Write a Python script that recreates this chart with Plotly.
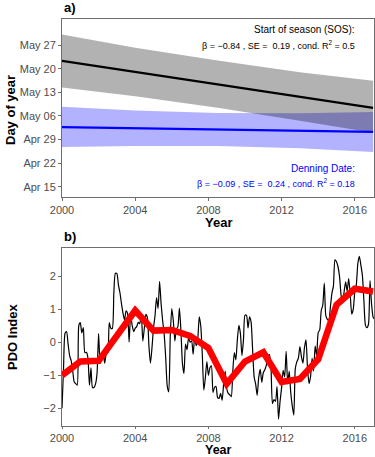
import plotly.graph_objects as go

# ---- panel a: start of season vs denning date (day of year) ----
fit_years = [2000, 2017]
sos_fit = [142.3, 128.4]
den_fit = [122.7, 121.3]

ci_years = [2000, 2004, 2008.5, 2013, 2017]
sos_hi = [150.1, 146.2, 142.4, 138.9, 136.4]
sos_lo = [134.4, 131.8, 128.4, 124.6, 121.0]
den_hi = [128.7, 127.6, 126.9, 126.8, 127.2]
den_lo = [116.8, 117.1, 117.1, 116.4, 115.3]

doy_ticks = [105, 112, 119, 126, 133, 140, 147]
doy_labels = ["Apr 15", "Apr 22", "Apr 29", "May 06", "May 13", "May 20", "May 27"]

# ---- panel b: PDO index, monthly and annual ----
pdo_monthly = [
    -2.00, -0.80, 0.28, 0.33, -0.05, -0.40, -0.55, -0.85, -1.20, -1.25, -1.30, 0.50,   # 2000
    0.60, 0.29, 0.45, -0.31, -0.30, -0.47, -1.30, -0.77, -1.37, -1.37, -1.26, -0.93,   # 2001
    0.27, -0.64, -0.43, -0.32, -0.63, -0.35, -0.31, 0.60, 0.43, 0.42, 1.51, 2.10,      # 2002
    2.09, 1.75, 1.51, 1.18, 0.89, 0.68, 0.96, 0.88, 0.01, 0.83, 0.52, 0.33,            # 2003
    0.43, 0.48, 0.61, 0.57, 0.88, 0.04, 0.44, 0.85, 0.75, -0.11, -0.63, -0.17,         # 2004
    0.44, 0.81, 1.36, 1.03, 1.86, 1.17, 0.66, 0.25, -0.46, -1.32, -1.50, 0.20,         # 2005
    1.03, 0.66, 0.05, 0.40, 0.48, 1.04, 0.35, -0.65, -0.94, -0.05, -0.22, 0.14,        # 2006
    0.01, 0.04, -0.36, 0.16, -0.10, 0.09, 0.78, 0.50, -0.36, -1.45, -1.08, -0.58,      # 2007
    -1.00, -0.77, -0.71, -1.52, -1.37, -1.34, -1.67, -1.70, -1.55, -1.76, -1.25, -0.87,  # 2008
    -1.40, -1.55, -1.59, -1.65, -0.88, -0.31, -0.53, 0.09, 0.52, 0.27, -0.40, 0.08,    # 2009
    0.83, 0.82, 0.44, 0.78, 0.62, -0.22, -1.05, -1.27, -1.61, -1.06, -0.82, -1.21,     # 2010
    -0.92, -0.83, -0.69, -0.42, -0.37, -0.69, -1.86, -1.74, -1.79, -1.34, -2.33, -1.79,  # 2011
    -1.38, -0.85, -1.05, -0.27, -1.26, -0.87, -1.52, -1.93, -2.21, -0.79, -0.59, -0.48,  # 2012
    -0.13, -0.43, -0.63, -0.16, 0.08, -0.78, -1.25, -1.04, -0.48, -0.87, -0.11, -0.41,   # 2013
    0.30, 0.38, 0.97, 1.13, 1.80, 0.82, 0.70, 0.67, 1.08, 1.49, 1.72, 2.51,            # 2014
    2.45, 2.30, 2.00, 1.44, 1.20, 1.54, 1.84, 1.56, 1.94, 1.47, 0.86, 1.01,            # 2015
    1.53, 1.75, 2.40, 2.62, 2.35, 2.03, 1.25, 0.52, 0.45, 0.56, 1.88, 1.17,            # 2016
    0.77, 0.70,                                                                        # 2017
]
months = [2000 + i / 12 for i in range(len(pdo_monthly))]

pdo_years = list(range(2000, 2018))
pdo_annual = [-1.00, -0.58, -0.56, 0.20, 0.97, 0.36, 0.38, 0.20, -0.17, -1.26,
              -0.58, -0.30, -1.20, -1.11, -0.51, 1.14, 1.63, 1.55]

W, H = 375, 457
def px(x):
    return x / W
def py(y):
    return 1 - y / H

fig = go.Figure()

# confidence bands (blue first, grey on top)
fig.add_trace(go.Scatter(x=ci_years + ci_years[::-1], y=den_hi + den_lo[::-1],
                         fill="toself", fillcolor="rgba(0,0,255,0.3)", line=dict(width=0),
                         mode="lines", hoverinfo="skip", xaxis="x", yaxis="y"))
fig.add_trace(go.Scatter(x=ci_years + ci_years[::-1], y=sos_hi + sos_lo[::-1],
                         fill="toself", fillcolor="rgba(0,0,0,0.3)", line=dict(width=0),
                         mode="lines", hoverinfo="skip", xaxis="x", yaxis="y"))
fig.add_trace(go.Scatter(x=fit_years, y=den_fit, mode="lines",
                         line=dict(color="#0000ff", width=2.2), xaxis="x", yaxis="y"))
fig.add_trace(go.Scatter(x=fit_years, y=sos_fit, mode="lines",
                         line=dict(color="black", width=2.2), xaxis="x", yaxis="y"))

# PDO
fig.add_trace(go.Scatter(x=months, y=pdo_monthly, mode="lines",
                         line=dict(color="black", width=1.2, shape="spline", smoothing=0.6),
                         xaxis="x2", yaxis="y2"))
fig.add_trace(go.Scatter(x=pdo_years, y=pdo_annual, mode="lines",
                         line=dict(color="#ff0000", width=6.5), xaxis="x2", yaxis="y2"))

tick_font = dict(family="Liberation Sans, Arial", size=11, color="#4d4d4d")
axis_common = dict(showgrid=False, zeroline=False, showline=True, mirror=True,
                   linecolor="#6e6e6e", linewidth=1, ticks="outside", ticklen=3,
                   tickcolor="#6e6e6e", tickfont=tick_font, automargin=False)

xdom = [px(62), px(374)]
fig.update_layout(
    width=W, height=H,
    margin=dict(l=0, r=0, t=0, b=0, pad=0, autoexpand=False),
    paper_bgcolor="white", plot_bgcolor="white",
    showlegend=False,
    xaxis=dict(domain=xdom, range=[2000, 2017.05], tickvals=[2000, 2004, 2008, 2012, 2016],
               anchor="y", **axis_common),
    yaxis=dict(domain=[py(197), py(19)], range=[102.0, 154.7], tickvals=doy_ticks,
               ticktext=doy_labels, anchor="x", **axis_common),
    xaxis2=dict(domain=xdom, range=[2000, 2017.05], tickvals=[2000, 2004, 2008, 2012, 2016],
                anchor="y2", **axis_common),
    yaxis2=dict(domain=[py(426), py(248)], range=[-2.54, 2.87], tickvals=[-2, -1, 0, 1, 2],
                anchor="x2", **axis_common),
)
fig.update_layout(xaxis2_ticklen=2)

bold = dict(family="Liberation Sans, Arial", size=13, color="black")
bold_b = dict(family="Liberation Sans, Arial", size=12.5, color="black")
txt = dict(family="Liberation Sans, Arial", size=10, color="black")
txt_small = dict(family="Liberation Sans, Arial", size=9, color="black")
txt_blue = dict(family="Liberation Sans, Arial", size=10, color="#0000ff")
txt_blue_small = dict(family="Liberation Sans, Arial", size=9, color="#0000ff")

ann = [
    dict(text="<b>a)</b>", x=px(62), y=py(8), xanchor="left", font=bold),
    dict(text="<b>b)</b>", x=px(62), y=py(236), xanchor="left", font=bold),
    dict(text="Start of season (SOS):", x=px(357), y=py(29), xanchor="right", font=txt),
    dict(text="β = −0.84 , SE =  0.19 , cond. R<sup>2</sup> = 0.5", x=px(357), y=py(45),
         xanchor="right", font=txt_small),
    dict(text="Denning Date:", x=px(357), y=py(168), xanchor="right", font=txt_blue),
    dict(text="β = −0.09 , SE =  0.24 , cond. R<sup>2</sup> = 0.18", x=px(357), y=py(183),
         xanchor="right", font=txt_blue_small),
    dict(text="<b>Year</b>", x=px(218), y=py(223), xanchor="center", font=bold),
    dict(text="<b>Year</b>", x=px(218), y=py(450), xanchor="center", font=bold_b),
    dict(text="<b>Day of year</b>", x=px(10), y=py(110), textangle=-90, font=bold),
    dict(text="<b>PDO Index</b>", x=px(12), y=py(337), textangle=-90, font=bold),
]
for a in ann:
    a.update(xref="paper", yref="paper", showarrow=False, yanchor="middle")
    a.setdefault("xanchor", "center")
fig.update_layout(annotations=ann)

pin = ("document.documentElement.style.margin='0';document.body.style.margin='0';"
       "document.body.style.padding='0';document.body.style.overflow='hidden';"
       "var d=document.getElementById('{plot_id}');d.style.position='absolute';"
       "d.style.left='0px';d.style.top='0px';")
fig.write_html("out.html", config={"displayModeBar": False}, post_script=pin)
